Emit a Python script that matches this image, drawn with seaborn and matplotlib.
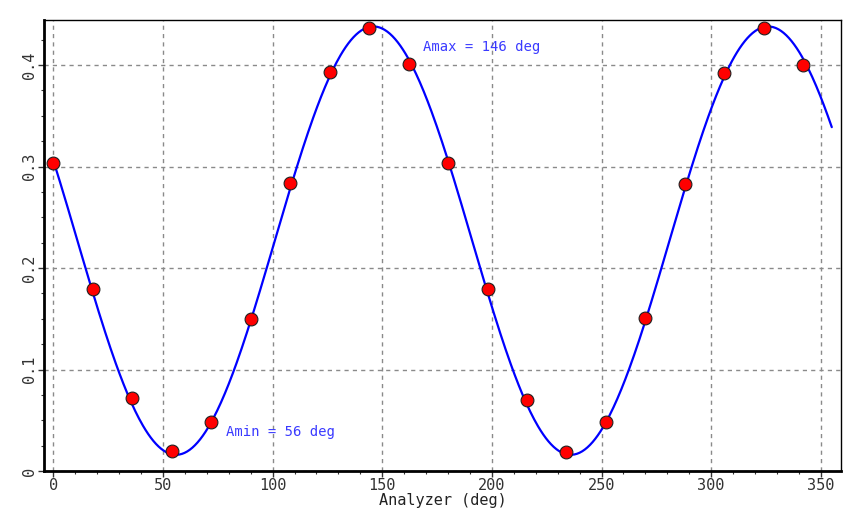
import numpy as np
import pandas as pd
import matplotlib
matplotlib.use("Agg")
import matplotlib.pyplot as plt
from matplotlib.ticker import MultipleLocator
import seaborn as sns

# Measured intensity versus analyzer angle
analyzer_deg = [0, 18, 36, 54, 72, 90, 108, 126, 144, 162,
                180, 198, 216, 234, 252, 270, 288, 306, 324, 342]
intensity = [0.303, 0.179, 0.072, 0.020, 0.048, 0.150, 0.284, 0.393, 0.436, 0.401,
             0.303, 0.179, 0.070, 0.019, 0.048, 0.151, 0.283, 0.392, 0.436, 0.400]

# Malus-law fit parameters
amax_deg = 146
amin_deg = 56
fit_low = 0.016
fit_high = 0.438

x_ticks = [0, 50, 100, 150, 200, 250, 300, 350]
y_ticks = [0, 0.1, 0.2, 0.3, 0.4]
y_tick_labels = ["0", "0.1", "0.2", "0.3", "0.4"]

sns.set_style("white")
plt.rcParams["font.family"] = ["DejaVu Sans Mono", "DejaVu Sans"]

fig = plt.figure(figsize=(8.48, 5.12), dpi=100)
ax = fig.add_axes([0.052, 0.080, 0.940, 0.881])

theta = np.linspace(0, 355, 600)
fit = fit_low + (fit_high - fit_low) * np.cos(np.radians(theta - amax_deg)) ** 2
fit_df = pd.DataFrame({"angle": theta, "value": fit})
pts_df = pd.DataFrame({"angle": analyzer_deg, "value": intensity})

sns.lineplot(data=fit_df, x="angle", y="value", ax=ax, color="#0000ff",
             linewidth=1.6, zorder=3)
sns.scatterplot(data=pts_df, x="angle", y="value", ax=ax, color="#ff0000",
                edgecolor="#202020", linewidth=0.8, s=85, zorder=4)

ax.set_xlim(-4.2, 359.3)
ax.set_ylim(0, 0.4444)
ax.set_xticks(x_ticks)
ax.set_yticks(y_ticks)
ax.set_yticklabels(y_tick_labels, rotation=90, va="center")
ax.xaxis.set_minor_locator(MultipleLocator(10))
ax.yaxis.set_minor_locator(MultipleLocator(0.025))
ax.tick_params(which="major", direction="out", length=4, width=1,
               labelsize=11, colors="#333333", bottom=True, left=True, pad=1)
ax.tick_params(which="minor", direction="out", length=2, width=0.8,
               colors="#333333", bottom=True, left=True)

ax.grid(True, which="major", color="#8a8a8a", linestyle=(0, (3, 3)), linewidth=1)
for side in ["left", "bottom", "right", "top"]:
    ax.spines[side].set_visible(True)
    ax.spines[side].set_color("#000000")
ax.spines["left"].set_linewidth(2)
ax.spines["bottom"].set_linewidth(2)
ax.spines["right"].set_linewidth(1)
ax.spines["top"].set_linewidth(1)

ax.set_xlabel("Analyzer (deg)", fontsize=11, color="#222222", labelpad=0)
ax.set_ylabel("")

ax.text(168.8, 0.418, f"Amax = {amax_deg} deg", color="#3a3aff",
        fontsize=10, va="center", ha="left")
ax.text(78.9, 0.038, f"Amin = {amin_deg} deg", color="#3a3aff",
        fontsize=10, va="center", ha="left")

fig.savefig("out.png", dpi=100)
